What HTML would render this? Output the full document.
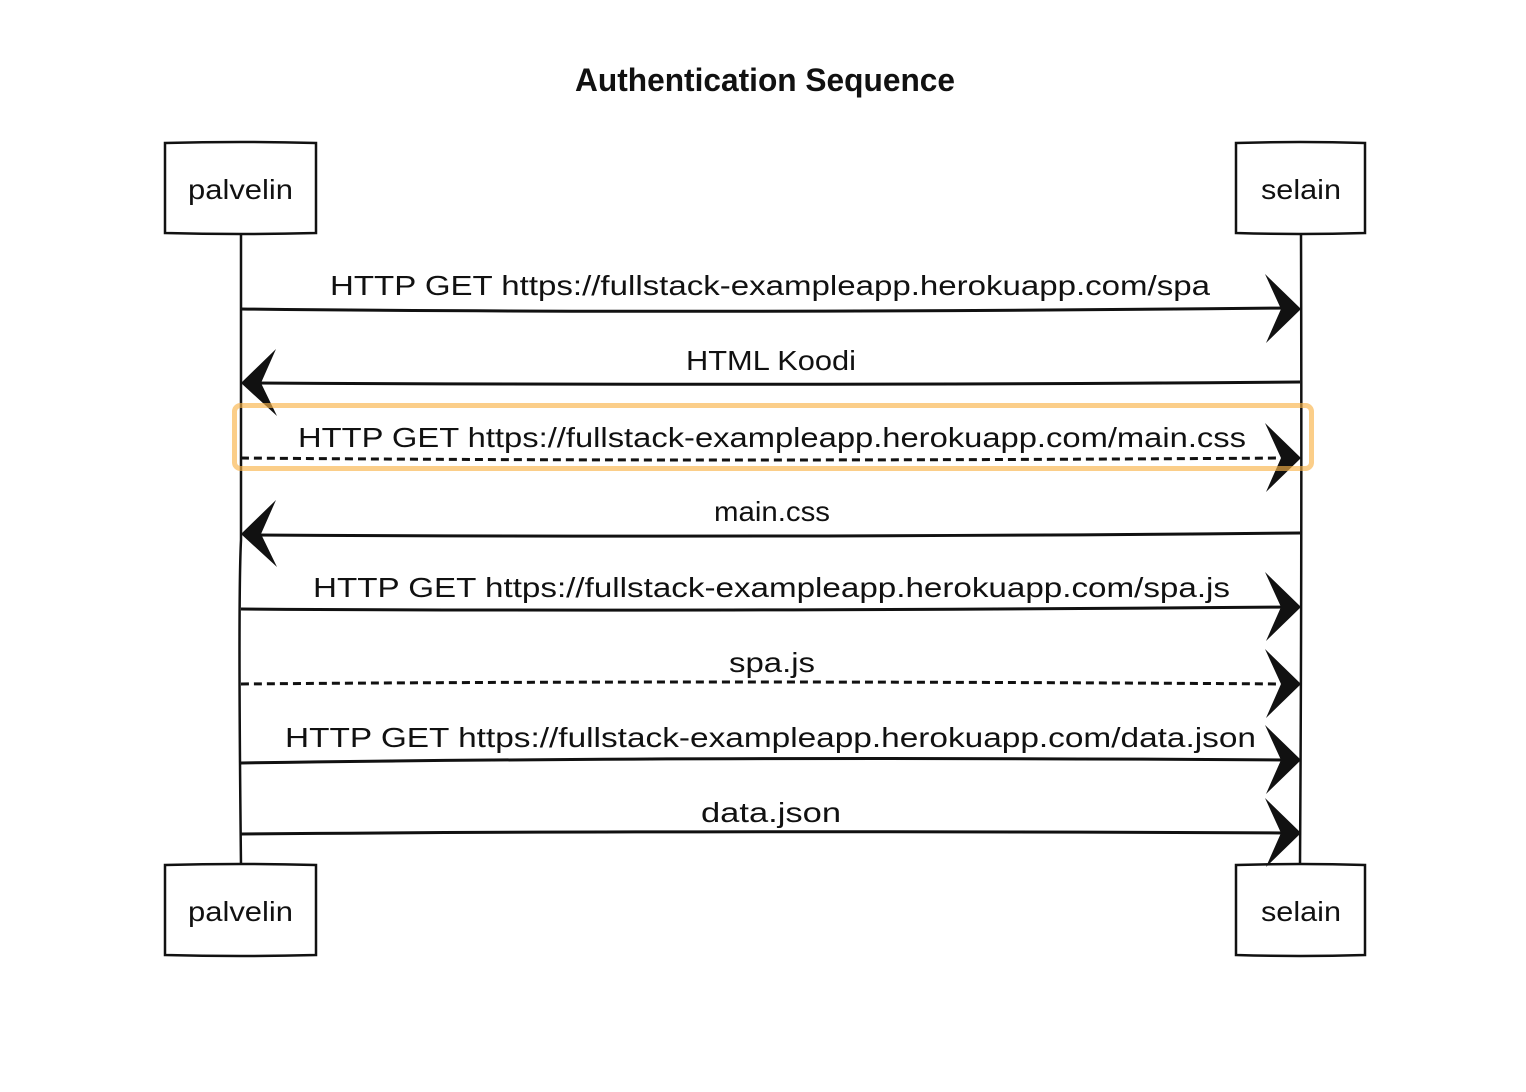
<!DOCTYPE html>
<html><head><meta charset="utf-8"><style>
html,body{margin:0;padding:0;background:#fff;}
svg{display:block}
text{font-family:"Liberation Sans",sans-serif;fill:#111;}
</style></head><body>
<svg width="1526" height="1092" viewBox="0 0 1526 1092" xmlns="http://www.w3.org/2000/svg">
<text x="575" y="91" font-size="32" font-weight="bold" textLength="380" lengthAdjust="spacingAndGlyphs">Authentication Sequence</text>

<g fill="none" stroke="#111" stroke-width="2.5">
<path d="M241 233 L241 540 Q238 600 241 865"/>
<path d="M1301 233 Q1302 550 1300 865"/>
<path d="M165 143 Q240 141 316 143 L316 233 Q240 235 165 233 Z"/>
<path d="M1236 143 Q1300 141 1365 143 L1365 233 Q1300 235 1236 233 Z"/>
<path d="M165 865 Q240 863 316 865 L316 955 Q240 957 165 955 Z"/>
<path d="M1236 865 Q1300 863 1365 865 L1365 955 Q1300 957 1236 955 Z"/>
</g>
<g fill="none" stroke="#111" stroke-width="3">
<path d="M241 309 Q700 314 1285 308"/>
<path d="M1300 382 Q800 386 255 383"/>
<path d="M241 458 Q700 462 1285 458" stroke-dasharray="8 5"/>
<path d="M1300 533 Q800 538 255 535"/>
<path d="M241 609 Q700 612 1285 607"/>
<path d="M241 684 Q700 680 1285 684" stroke-dasharray="8 5"/>
<path d="M241 763 Q700 756 1285 760"/>
<path d="M241 834 Q700 830 1285 833"/>
</g>

<g fill="#111">
<polygon points="1301,309 1265,274 1281,309 1266,343"/>
<polygon points="1301,458 1265,423 1281,458 1266,492"/>
<polygon points="1301,607 1265,572 1281,607 1266,641"/>
<polygon points="1301,684 1265,649 1281,684 1266,718"/>
<polygon points="1301,760 1265,725 1281,760 1266,794"/>
<polygon points="1301,833 1265,798 1281,833 1266,867"/>
<polygon points="241,383 276,349 261,383 277,416"/>
<polygon points="241,534 276,500 261,534 277,567"/>
</g>

<rect x="234.5" y="405.5" width="1077" height="63" rx="6" fill="none" stroke="#f9b44a" stroke-opacity="0.65" stroke-width="5"/>

<g font-size="28">
<text x="188" y="199" textLength="105" lengthAdjust="spacingAndGlyphs">palvelin</text>
<text x="1261" y="199" textLength="80" lengthAdjust="spacingAndGlyphs">selain</text>
<text x="188" y="921" textLength="105" lengthAdjust="spacingAndGlyphs">palvelin</text>
<text x="1261" y="921" textLength="80" lengthAdjust="spacingAndGlyphs">selain</text>

<text x="330" y="295" textLength="880" lengthAdjust="spacingAndGlyphs">HTTP GET https://fullstack-exampleapp.herokuapp.com/spa</text>
<text x="686" y="370" textLength="170" lengthAdjust="spacingAndGlyphs">HTML Koodi</text>
<text x="298" y="447" textLength="948" lengthAdjust="spacingAndGlyphs">HTTP GET https://fullstack-exampleapp.herokuapp.com/main.css</text>
<text x="714" y="521" textLength="116" lengthAdjust="spacingAndGlyphs">main.css</text>
<text x="313" y="597" textLength="917" lengthAdjust="spacingAndGlyphs">HTTP GET https://fullstack-exampleapp.herokuapp.com/spa.js</text>
<text x="729" y="672" textLength="86" lengthAdjust="spacingAndGlyphs">spa.js</text>
<text x="285" y="747" textLength="971" lengthAdjust="spacingAndGlyphs">HTTP GET https://fullstack-exampleapp.herokuapp.com/data.json</text>
<text x="701" y="822" textLength="140" lengthAdjust="spacingAndGlyphs">data.json</text>
</g>
</svg>
</body></html>
